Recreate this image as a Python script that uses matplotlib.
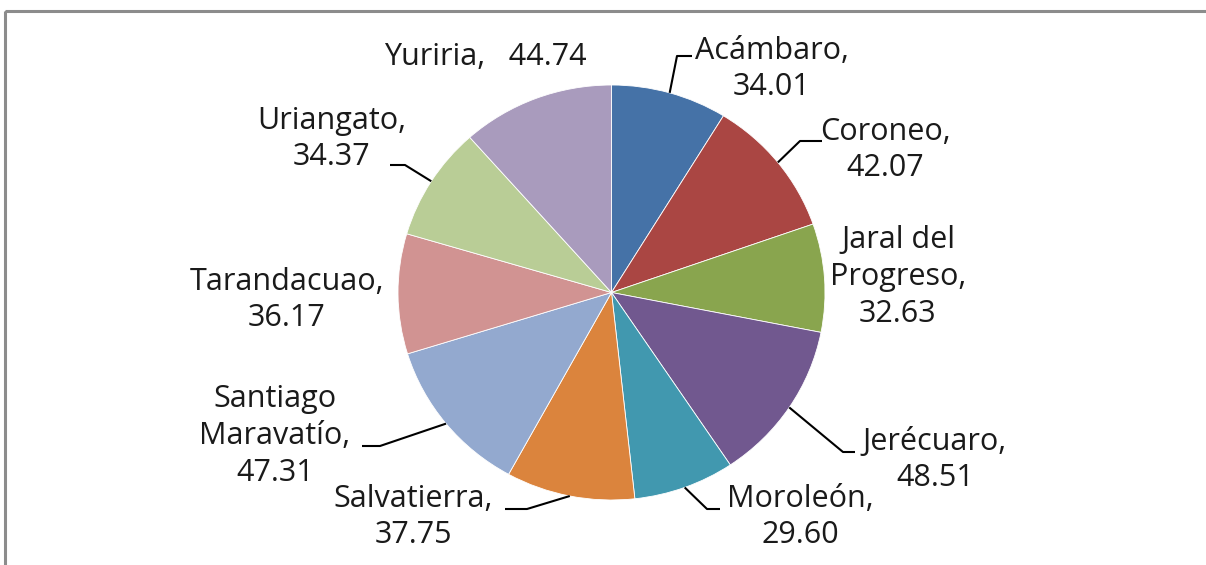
import numpy as np
import matplotlib
matplotlib.use("Agg")
import matplotlib.pyplot as plt
from matplotlib.patches import Rectangle

# ---- data ----
categories = ["Acámbaro", "Coroneo", "Jaral del\nProgreso", "Jerécuaro", "Moroleón",
              "Salvatierra", "Santiago\nMaravatío", "Tarandacuao", "Uriangato", "Yuriria"]
values = [34.01, 42.07, 32.63, 48.51, 29.60, 37.75, 47.31, 36.17, 34.37, 44.74]
value_labels = ["34.01", "42.07", "32.63", "48.51", "29.60",
                "37.75", "47.31", "36.17", "34.37", "44.74"]
colors = ["#4572A7", "#AA4643", "#89A54E", "#71588F", "#4198AF",
          "#DB843D", "#93A9CF", "#D19392", "#B9CD96", "#A99BBD"]

# ---- layout (pixel positions of labels & leader elbows) ----
W, H = 1206, 565
cx, cy, rx, ry = 611.5, 292.5, 213.5, 207.5
label_pos = [(772, 69), (885, 150), (898, 277), (935, 460), (800, 517),
             (413, 517), (275, 436), (287, 300), (332, 139), (485, 57)]
# elbow, end points of leader lines (None = no leader)
leaders = [[(677, 56), (692, 56)], [(800, 141), (822, 141)], None,
           [(843, 452), (855, 452)], [(707, 509), (720, 509)],
           [(527, 509), (505, 509)], [(380, 446), (362, 446)], None,
           [(405, 165), (390, 165)], None]

fig = plt.figure(figsize=(W / 100, H / 100), dpi=100)
ax = fig.add_axes([0, 0, 1, 1])
wedges, _ = ax.pie(values, colors=colors, startangle=90, counterclock=False,
                   radius=1, center=(0, 0),
                   wedgeprops=dict(edgecolor="white", linewidth=0.6))
ax.set_aspect("auto")
ax.set_xlim(-cx / rx, (W - cx) / rx)
ax.set_ylim(-(H - cy) / ry, cy / ry)
ax.axis("off")

ov = fig.add_axes([0, 0, 1, 1], zorder=5)
ov.set_xlim(0, W)
ov.set_ylim(H, 0)
ov.axis("off")
ov.patch.set_alpha(0)

# border
ov.add_patch(Rectangle((5, 11), W + 20, H + 20, fill=False,
                       edgecolor="#8c8c8c", linewidth=2.2))

font = dict(family="Open Sans", fontsize=22, color="#1a1a1a")
to_ov = ax.transData + ov.transData.inverted()
for w, cat, val, pos, ld in zip(wedges, categories, value_labels, label_pos, leaders):
    if cat == "Yuriria":
        txt = f"{cat},   {val}"
    else:
        txt = f"{cat},\n{val}"
    ov.text(pos[0], pos[1], txt, ha="center", va="center",
            multialignment="center", linespacing=1.3, **font)
    if ld is not None:
        mid = np.deg2rad((w.theta1 + w.theta2) / 2)
        sx, sy = to_ov.transform((np.cos(mid), np.sin(mid)))
        xs = [sx] + [p[0] for p in ld]
        ys = [sy] + [p[1] for p in ld]
        ov.plot(xs, ys, color="black", linewidth=1.5, solid_capstyle="butt")

fig.savefig("out.png", dpi=100)
